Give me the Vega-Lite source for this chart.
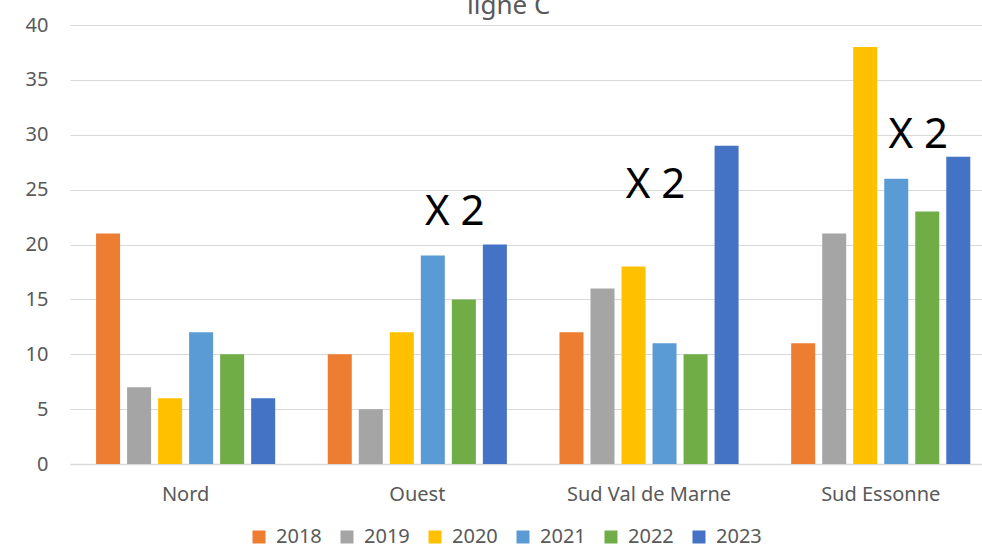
{
  "$schema": "https://vega.github.io/schema/vega-lite/v6.json",
  "width": 912,
  "height": 439,
  "autosize": {"type": "none"},
  "padding": {"left": 70, "top": 25, "right": 0, "bottom": 83},
  "background": "white",
  "config": {
    "view": {"stroke": null},
    "font": "Noto Sans"
  },
  "title": {
    "text": "ligne C",
    "font": "Noto Sans",
    "fontSize": 26,
    "fontWeight": "normal",
    "color": "#595959",
    "frame": "group",
    "anchor": "start",
    "baseline": "alphabetic",
    "offset": 0,
    "dx": 397,
    "dy": 25
  },
  "datasets": {
    "bars": [
      {"region": "Nord", "year": "2018", "value": 21},
      {"region": "Nord", "year": "2019", "value": 7},
      {"region": "Nord", "year": "2020", "value": 6},
      {"region": "Nord", "year": "2021", "value": 12},
      {"region": "Nord", "year": "2022", "value": 10},
      {"region": "Nord", "year": "2023", "value": 6},
      {"region": "Ouest", "year": "2018", "value": 10},
      {"region": "Ouest", "year": "2019", "value": 5},
      {"region": "Ouest", "year": "2020", "value": 12},
      {"region": "Ouest", "year": "2021", "value": 19},
      {"region": "Ouest", "year": "2022", "value": 15},
      {"region": "Ouest", "year": "2023", "value": 20},
      {"region": "Sud Val de Marne", "year": "2018", "value": 12},
      {"region": "Sud Val de Marne", "year": "2019", "value": 16},
      {"region": "Sud Val de Marne", "year": "2020", "value": 18},
      {"region": "Sud Val de Marne", "year": "2021", "value": 11},
      {"region": "Sud Val de Marne", "year": "2022", "value": 10},
      {"region": "Sud Val de Marne", "year": "2023", "value": 29},
      {"region": "Sud Essonne", "year": "2018", "value": 11},
      {"region": "Sud Essonne", "year": "2019", "value": 21},
      {"region": "Sud Essonne", "year": "2020", "value": 38},
      {"region": "Sud Essonne", "year": "2021", "value": 26},
      {"region": "Sud Essonne", "year": "2022", "value": 23},
      {"region": "Sud Essonne", "year": "2023", "value": 28}
    ],
    "notes": [
      {"region": "Ouest", "year": "2022", "value": 23, "label": "X 2"},
      {"region": "Sud Val de Marne", "year": "2021", "value": 25.4, "label": "X 2"},
      {"region": "Sud Essonne", "year": "2022", "value": 30, "label": "X 2"}
    ]
  },
  "layer": [
    {
      "data": {"name": "bars"},
      "mark": {"type": "bar"},
      "encoding": {
        "x": {
          "field": "region",
          "type": "nominal",
          "sort": ["Nord", "Ouest", "Sud Val de Marne", "Sud Essonne"],
          "scale": {"domain": ["Nord", "Ouest", "Sud Val de Marne", "Sud Essonne"], "paddingInner": 0.227, "paddingOuter": 0.0815, "align": 0.69},
          "axis": {
            "title": null,
            "labelAngle": 0,
            "labelFontSize": 20,
            "labelColor": "#595959",
            "labelPadding": 20,
            "ticks": false,
            "domainColor": "#D9D9D9",
            "domainWidth": 1.5,
            "grid": false
          }
        },
        "xOffset": {
          "field": "year",
          "type": "nominal",
          "scale": {"domain": ["2018", "2019", "2020", "2021", "2022", "2023"], "paddingInner": 0.226, "paddingOuter": 0}
        },
        "y": {
          "field": "value",
          "type": "quantitative",
          "scale": {"domain": [0, 40], "nice": false},
          "axis": {
            "title": null,
            "values": [0, 5, 10, 15, 20, 25, 30, 35, 40],
            "labelFontSize": 20,
            "labelColor": "#595959",
            "labelPadding": 22,
            "ticks": false,
            "domain": false,
            "grid": true,
            "gridColor": "#D9D9D9",
            "gridWidth": 1
          }
        },
        "color": {
          "field": "year",
          "type": "nominal",
          "scale": {
            "domain": ["2018", "2019", "2020", "2021", "2022", "2023"],
            "range": ["#ED7D31", "#A5A5A5", "#FFC000", "#5B9BD5", "#70AD47", "#4472C4"]
          },
          "legend": {
            "title": null,
            "orient": "none",
            "direction": "horizontal",
            "columns": 6,
            "legendX": 179,
            "legendY": 502,
            "padding": 0,
            "symbolType": "square",
            "symbolSize": 169,
            "symbolStrokeWidth": 0,
            "labelFontSize": 20,
            "labelColor": "#595959",
            "labelOffset": 7,
            "columnPadding": 15
          }
        }
      }
    },
    {
      "data": {"name": "notes"},
      "mark": {"type": "text", "font": "Noto Sans", "fontSize": 42, "color": "#000000", "align": "center", "baseline": "middle", "dx": -9},
      "encoding": {
        "x": {"field": "region", "type": "nominal", "sort": ["Nord", "Ouest", "Sud Val de Marne", "Sud Essonne"]},
        "xOffset": {"field": "year", "type": "nominal"},
        "y": {"field": "value", "type": "quantitative"},
        "text": {"field": "label"}
      }
    }
  ]
}
